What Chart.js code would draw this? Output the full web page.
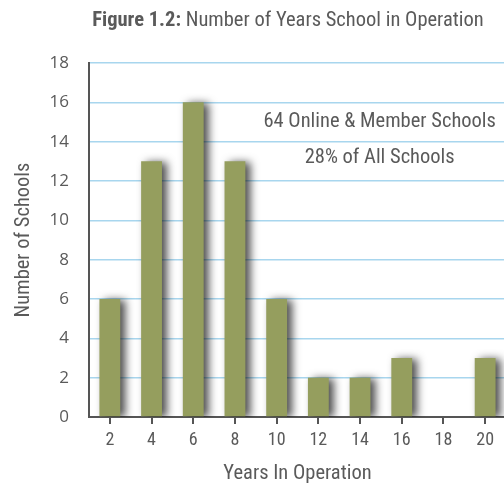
<!DOCTYPE html>
<html>
<head>
<meta charset="utf-8">
<script src="https://cdn.jsdelivr.net/npm/chart.js@4/dist/chart.umd.min.js"></script>
<style>
  html, body { margin: 0; padding: 0; background: #fff; overflow: hidden; width: 504px; height: 489px; }
  #wrap { width: 506px; height: 489px; }
</style>
</head>
<body>
<div id="wrap"><canvas id="ch" width="506" height="489"></canvas></div>
<script>
/* ---------- datos ---------- */
const years = ["2", "4", "6", "8", "10", "12", "14", "16", "18", "20"];
const schools = [6, 13, 16, 13, 6, 2, 2, 3, 0, 3];
const yTicks = [0, 2, 4, 6, 8, 10, 12, 14, 16, 18];
const titleBold = "Figure 1.2:";
const titleRest = " Number of Years School in Operation";
const noteLines = ["64 Online & Member Schools", "28% of All Schools"];

const NARROW = "'Roboto Condensed', 'DejaVu Sans Condensed', sans-serif";
const INK = "#5a5a5a";
const AXIS = "#555555";

/* título con parte en negrita */
const titlePlugin = {
  id: "titulo",
  afterDraw(ch) {
    const g = ch.ctx;
    g.save();
    g.fillStyle = INK;
    g.textBaseline = "middle";
    g.font = "bold 20.5px " + NARROW;
    const w1 = g.measureText(titleBold).width;
    g.font = "20.5px " + NARROW;
    const w2 = g.measureText(titleRest).width;
    const x = 288 - (w1 + w2) / 2;
    g.font = "bold 20.5px " + NARROW;
    g.fillText(titleBold, x, 21);
    g.font = "20.5px " + NARROW;
    g.fillText(titleRest, x + w1, 21);
    g.restore();
  },
};

/* nota dentro del gráfico */
const notePlugin = {
  id: "nota",
  afterDatasetsDraw(ch) {
    const g = ch.ctx;
    const x = ch.scales.x.getPixelForValue(6.47);
    g.save();
    g.fillStyle = INK;
    g.textAlign = "center";
    g.textBaseline = "middle";
    g.font = "20.5px " + NARROW;
    g.fillText(noteLines[0], x, ch.scales.y.getPixelForValue(15));
    g.fillText(noteLines[1], x, ch.scales.y.getPixelForValue(13.2));
    g.restore();
  },
};

/* sombra de las barras */
const shadowPlugin = {
  id: "sombra",
  beforeDatasetsDraw(ch) {
    const g = ch.ctx;
    g.save();
    g.shadowColor = "rgba(0,0,0,0.7)";
    g.shadowBlur = 8;
    g.shadowOffsetX = 5;
    g.shadowOffsetY = 1;
  },
  afterDatasetsDraw(ch) {
    ch.ctx.restore();
  },
};

new Chart(document.getElementById("ch"), {
  type: "bar",
  data: {
    labels: years,
    datasets: [{
      data: schools,
      backgroundColor: "#959e5e",
      categoryPercentage: 1,
      barPercentage: 0.5,
    }],
  },
  options: {
    responsive: false,
    animation: false,
    layout: { padding: { top: 63, left: 0, right: 0, bottom: 0 } },
    plugins: { legend: { display: false }, tooltip: { enabled: false } },
    scales: {
      y: {
        min: 0, max: 18,
        afterFit: (s) => { s.width = 89; },
        afterBuildTicks: (s) => { s.ticks = yTicks.map((v) => ({ value: v })); },
        ticks: { color: INK, padding: 20, font: { family: "'Open Sans', sans-serif", size: 17 } },
        grid: { color: "#a8d6ee", lineWidth: 1.5, drawTicks: false },
        border: { display: true, color: AXIS, width: 2 },
        title: {
          display: true, text: "Number of Schools", color: INK,
          font: { family: NARROW, size: 20.5 }, padding: { top: 12, bottom: 0 },
        },
      },
      x: {
        afterFit: (s) => { s.height = 72; },
        ticks: { color: INK, padding: 6, font: { family: NARROW, size: 18 } },
        grid: { drawOnChartArea: false, drawTicks: true, tickLength: 7, offset: false, color: AXIS, lineWidth: 2 },
        border: { display: true, color: AXIS, width: 2 },
        title: {
          display: true, text: "Years In Operation", color: INK,
          font: { family: NARROW, size: 20.5 }, padding: { top: 0, bottom: 3 },
        },
      },
    },
  },
  plugins: [shadowPlugin, notePlugin, titlePlugin],
});
</script>
</body>
</html>
